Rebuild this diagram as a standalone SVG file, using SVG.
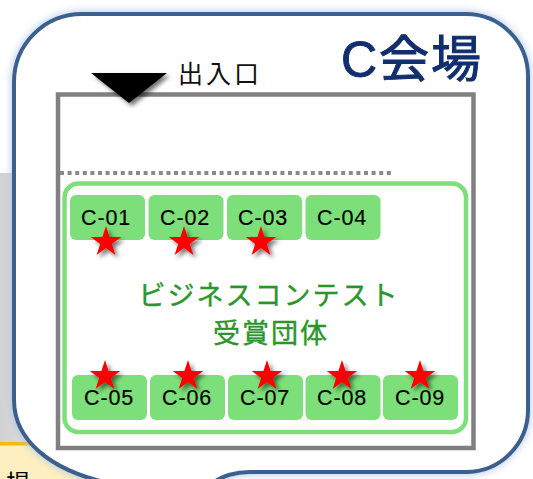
<svg xmlns="http://www.w3.org/2000/svg" width="533" height="479" viewBox="0 0 533 479">
<style>
.box{fill:#7ddf7a}
.lbl{font-family:"Liberation Sans",Arial,sans-serif;font-size:21.5px;letter-spacing:0.8px;fill:#000;stroke:#000;stroke-width:0.2px;text-anchor:middle}
.grn{font-family:"Noto Sans CJK JP",sans-serif;font-size:27px;letter-spacing:2px;fill:#2a962a;stroke:#2a962a;stroke-width:0.4px;text-anchor:middle}
.star{fill:#ff0000}
</style>
<defs>
<filter id="glow" x="-10%" y="-10%" width="120%" height="120%">
<feGaussianBlur in="SourceAlpha" stdDeviation="4" result="b"/>
<feFlood flood-color="#a9c3e3"/>
<feComposite in2="b" operator="in" result="g"/>
<feMerge><feMergeNode in="g"/><feMergeNode in="SourceGraphic"/></feMerge>
</filter>
<filter id="shadow" x="-50%" y="-50%" width="200%" height="200%">
<feGaussianBlur in="SourceAlpha" stdDeviation="2"/>
<feOffset dx="3" dy="3" result="o"/>
<feFlood flood-color="#000" flood-opacity="0.55"/>
<feComposite in2="o" operator="in" result="s"/>
<feMerge><feMergeNode in="s"/><feMergeNode in="SourceGraphic"/></feMerge>
</filter>
<linearGradient id="gr" x1="0" y1="0" x2="1" y2="0">
<stop offset="0" stop-color="#d2d2d2"/><stop offset="1" stop-color="#e4e4e4"/>
</linearGradient>
<path id="star" d="M0,-16 L3.59,-4.94 L15.22,-4.94 L5.81,1.89 L9.4,12.94 L0,6.11 L-9.4,12.94 L-5.81,1.89 L-15.22,-4.94 L-3.59,-4.94 Z"/>
</defs>
<g id="background">
<rect x="0" y="173" width="60" height="269" fill="url(#gr)"/>
<rect x="0" y="443" width="120" height="40" fill="#fdefc0"/>
<rect x="0" y="442" width="120" height="3.5" fill="#f6b90e"/>
<text x="6" y="492" font-family="Noto Sans CJK JP,sans-serif" font-size="24" fill="#000">場</text>
</g>
<g id="bubble">
<path d="M82,14 H466 A62,62 0 0 1 528,76 V410 A62,62 0 0 1 466,472 H250 Q228,472 212,483 L160,530 L108,483 C50,470 14,440 14,400 V82 A68,68 0 0 1 82,14 Z" fill="#fff" stroke="#3b5f8f" stroke-width="4" filter="url(#glow)"/>
<text x="341" y="77" font-family="Liberation Sans,Noto Sans CJK JP,sans-serif" font-size="50" letter-spacing="2" fill="#112e6e" stroke="#112e6e" stroke-width="1">C会場</text>
</g>
<g id="room">
<rect x="58" y="94.5" width="415.5" height="353.5" fill="none" stroke="#808080" stroke-width="4.5"/>
<line x1="60" y1="173" x2="392" y2="173" stroke="#8a8a8a" stroke-width="4" stroke-dasharray="4 3.6"/>
</g>
<g id="entrance">
<polygon points="91,73 167,73 129,103" fill="#000" filter="url(#shadow)"/>
<text x="178" y="83" font-family="Noto Sans CJK JP,sans-serif" font-size="25" letter-spacing="3" fill="#111">出入口</text>
</g>
<g id="area">
<rect x="64.5" y="183.5" width="401.5" height="248.5" rx="14" fill="#fff" stroke="#7ddf7a" stroke-width="4.5"/>
<text class="grn" x="269" y="305">ビジネスコンテスト</text>
<text class="grn" x="271" y="343">受賞団体</text>
</g>
<g id="C-01"><rect class="box" x="70" y="195" width="75" height="45" rx="6"/><text class="lbl" x="106" y="225">C-01</text></g>
<g id="C-02"><rect class="box" x="148.5" y="195" width="75" height="45" rx="6"/><text class="lbl" x="185" y="225">C-02</text></g>
<g id="C-03"><rect class="box" x="227" y="195" width="75" height="45" rx="6"/><text class="lbl" x="263" y="225">C-03</text></g>
<g id="C-04"><rect class="box" x="305.5" y="195" width="75" height="45" rx="6"/><text class="lbl" x="342" y="225">C-04</text></g>
<g id="C-05"><rect class="box" x="72" y="375" width="75" height="45" rx="6"/><text class="lbl" x="109" y="405">C-05</text></g>
<g id="C-06"><rect class="box" x="150" y="375" width="75" height="45" rx="6"/><text class="lbl" x="187" y="405">C-06</text></g>
<g id="C-07"><rect class="box" x="228" y="375" width="75" height="45" rx="6"/><text class="lbl" x="265" y="405">C-07</text></g>
<g id="C-08"><rect class="box" x="305.5" y="375" width="75" height="45" rx="6"/><text class="lbl" x="342" y="405">C-08</text></g>
<g id="C-09"><rect class="box" x="383" y="375" width="75" height="45" rx="6"/><text class="lbl" x="420" y="405">C-09</text></g>
<g id="stars" class="star" filter="url(#shadow)">
<use href="#star" x="106" y="242"/>
<use href="#star" x="184" y="242"/>
<use href="#star" x="261" y="242"/>
<use href="#star" x="105" y="376"/>
<use href="#star" x="188" y="376"/>
<use href="#star" x="267" y="376"/>
<use href="#star" x="342" y="376"/>
<use href="#star" x="420" y="376"/>
</g>
</svg>
